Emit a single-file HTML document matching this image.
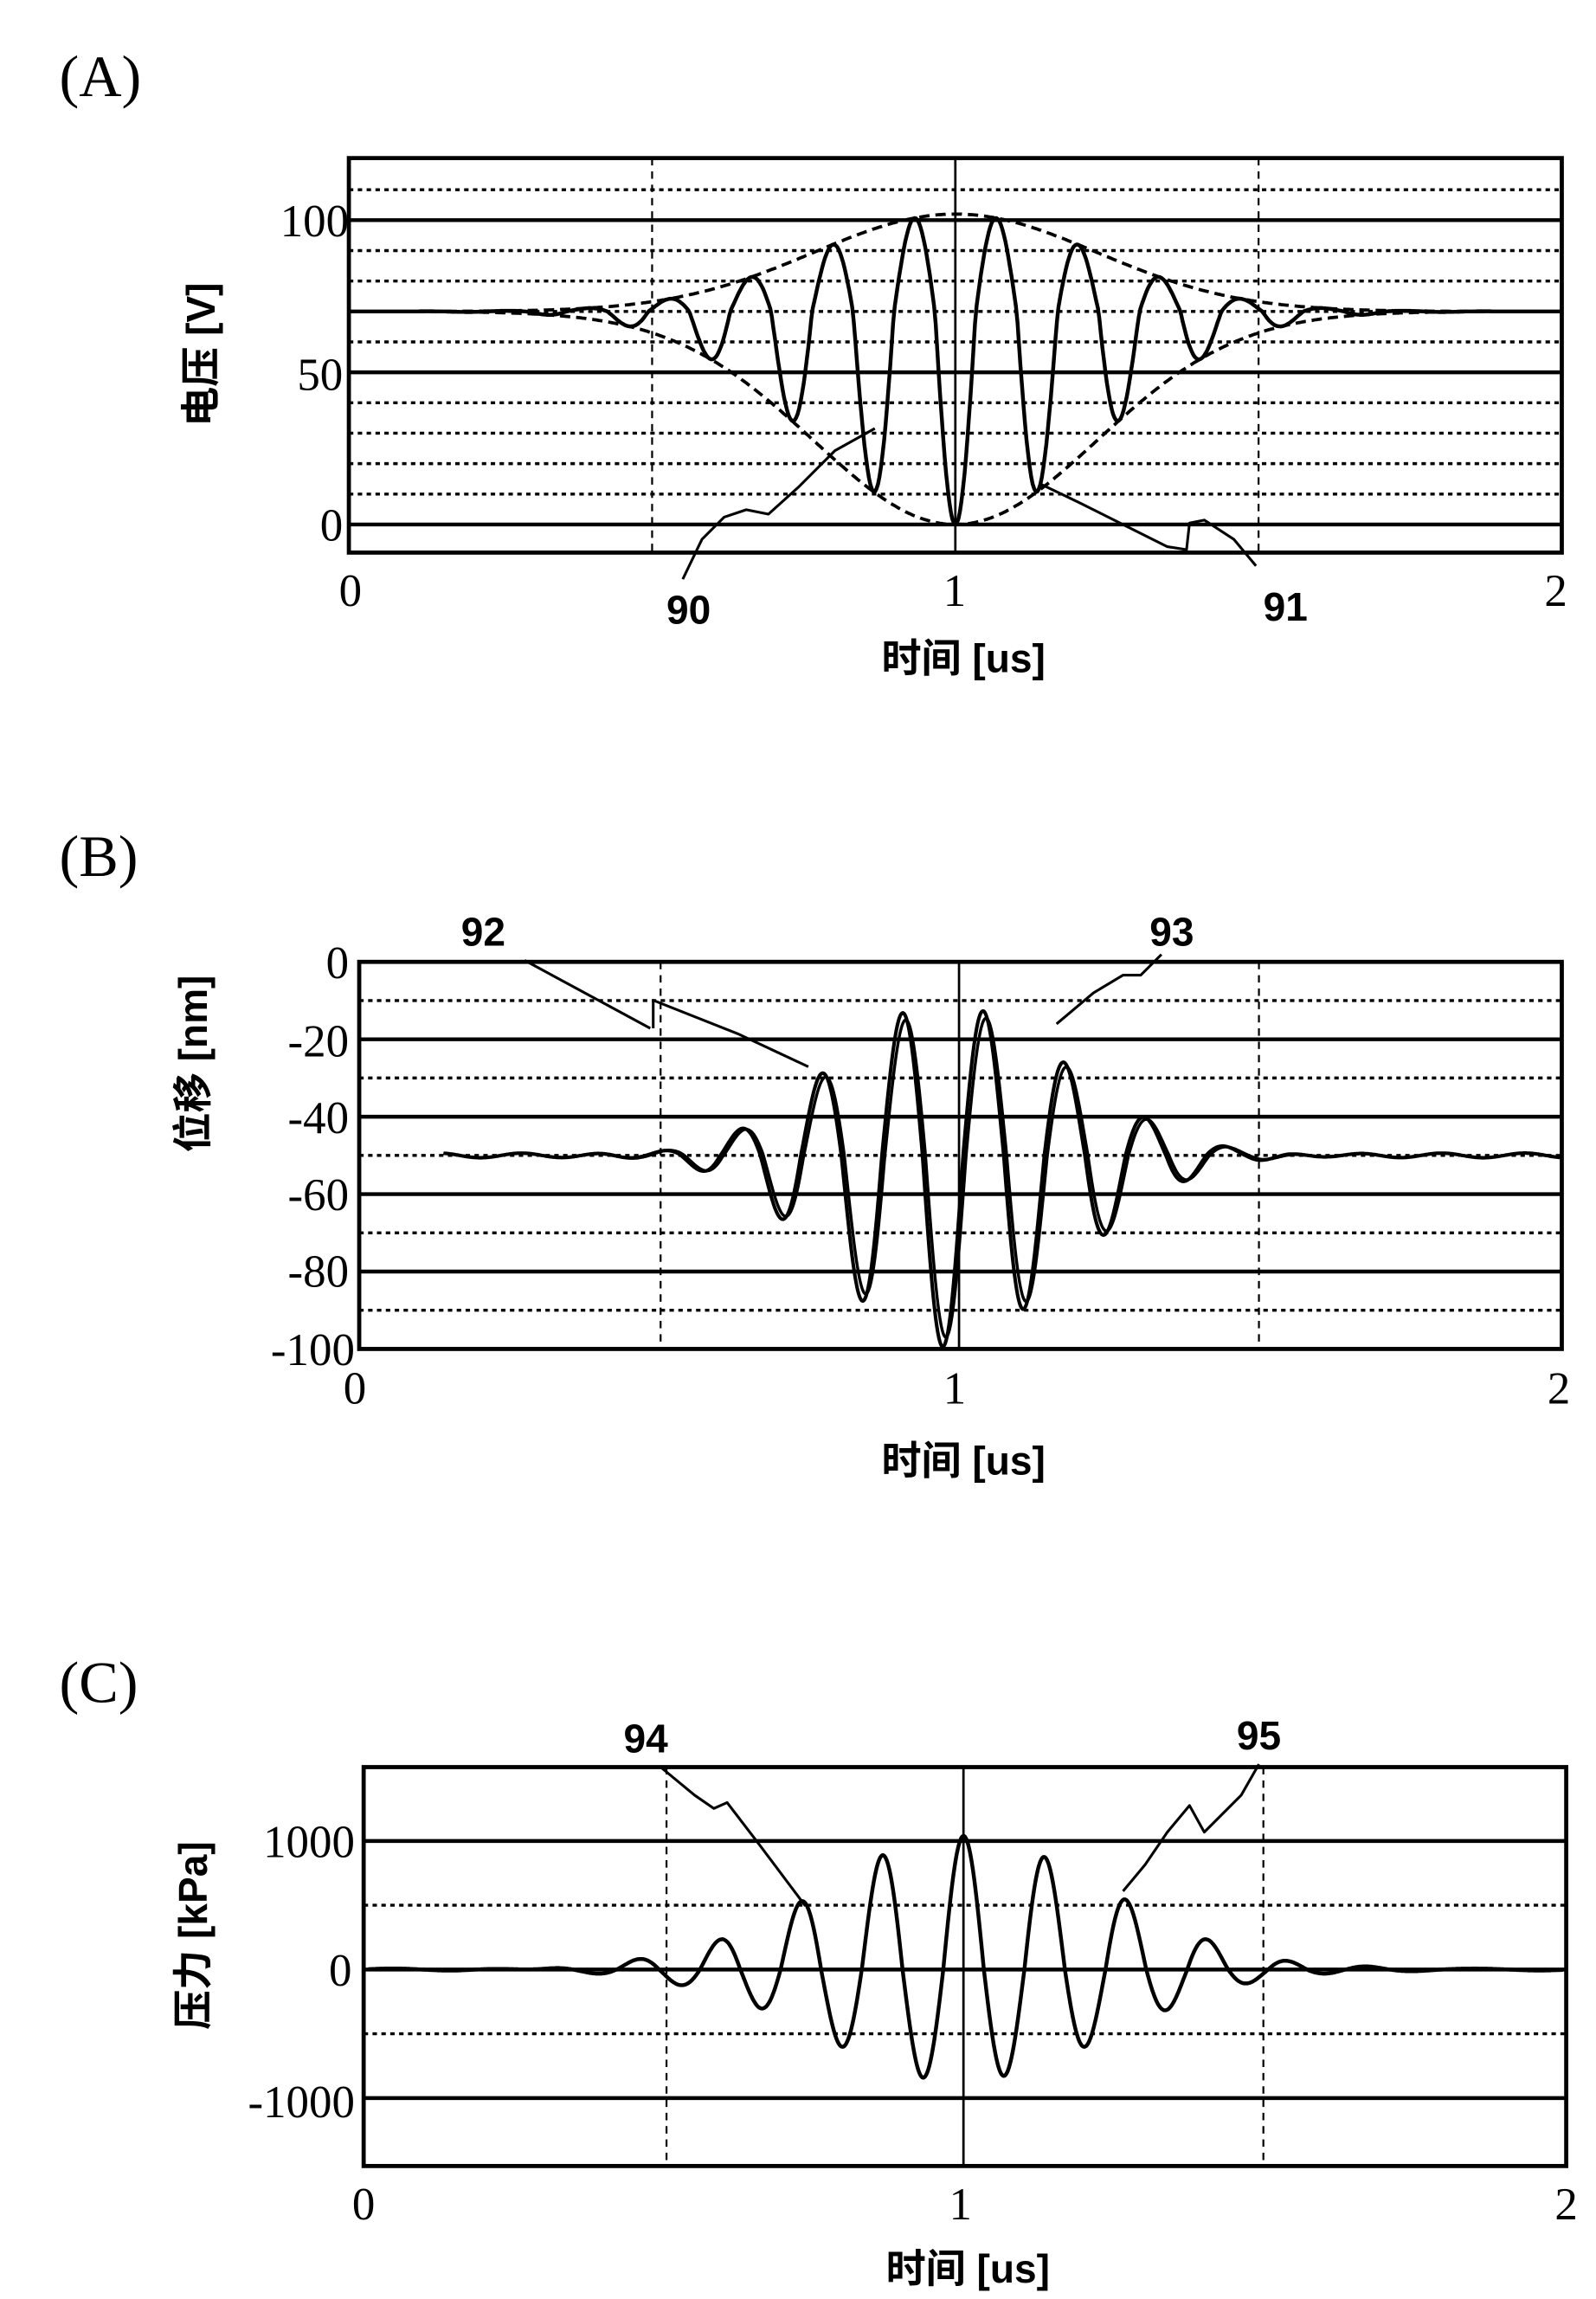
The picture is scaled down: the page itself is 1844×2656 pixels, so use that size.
<!DOCTYPE html>
<html><head><meta charset="utf-8">
<style>
html,body{margin:0;padding:0;background:#fff;}
svg{display:block;}
text{fill:#000;}
.t{font-family:"Liberation Serif","Noto Serif CJK SC",serif;font-size:31px;}
.s{font-family:"Liberation Sans","Noto Sans CJK SC",sans-serif;font-weight:bold;font-size:27px;}
.p{font-family:"Liberation Serif",serif;font-size:40px;}
</style></head>
<body>
<svg id="svg" width="1844" height="2656" viewBox="0 0 1080 1556" xmlns="http://www.w3.org/2000/svg">
<g fill="none" stroke="#000">
<g id="gA"></g>
<g id="gB"></g>
<g id="gC"></g>
</g>
<text class="p" x="40" y="65">(A)</text>
<text class="t" x="236" y="160" text-anchor="end">100</text>
<text class="t" x="232" y="264" text-anchor="end">50</text>
<text class="t" x="232" y="366" text-anchor="end">0</text>
<text class="t" x="237" y="410" text-anchor="middle">0</text>
<text class="t" x="646" y="410" text-anchor="middle">1</text>
<text class="t" x="1053" y="410" text-anchor="middle">2</text>
<text class="s" x="466" y="422" text-anchor="middle">90</text>
<text class="s" x="870" y="420" text-anchor="middle">91</text>
<text class="s" x="652" y="455" text-anchor="middle">时间 [us]</text>
<text class="s" transform="translate(145,240) rotate(-90)" text-anchor="middle">电压 [V]</text>

<text class="p" x="40" y="593">(B)</text>
<text class="t" x="236" y="662" text-anchor="end">0</text>
<text class="t" x="236" y="715" text-anchor="end">-20</text>
<text class="t" x="236" y="767" text-anchor="end">-40</text>
<text class="t" x="236" y="819" text-anchor="end">-60</text>
<text class="t" x="236" y="871" text-anchor="end">-80</text>
<text class="t" x="240" y="924" text-anchor="end">-100</text>
<text class="t" x="240" y="950" text-anchor="middle">0</text>
<text class="t" x="646" y="950" text-anchor="middle">1</text>
<text class="t" x="1055" y="950" text-anchor="middle">2</text>
<text class="s" x="327" y="640" text-anchor="middle">92</text>
<text class="s" x="793" y="640" text-anchor="middle">93</text>
<text class="s" x="652" y="998" text-anchor="middle">时间 [us]</text>
<text class="s" transform="translate(140,720) rotate(-90)" text-anchor="middle">位移 [nm]</text>

<text class="p" x="40" y="1152">(C)</text>
<text class="t" x="240" y="1257" text-anchor="end">1000</text>
<text class="t" x="238" y="1344" text-anchor="end">0</text>
<text class="t" x="240" y="1433" text-anchor="end">-1000</text>
<text class="t" x="246" y="1502" text-anchor="middle">0</text>
<text class="t" x="650" y="1502" text-anchor="middle">1</text>
<text class="t" x="1060" y="1502" text-anchor="middle">2</text>
<text class="s" x="437" y="1186" text-anchor="middle">94</text>
<text class="s" x="852" y="1184" text-anchor="middle">95</text>
<text class="s" x="655" y="1545" text-anchor="middle">时间 [us]</text>
<text class="s" transform="translate(140,1310) rotate(-90)" text-anchor="middle">压力 [kPa]</text>
</svg>
<script>
var NS="http://www.w3.org/2000/svg";
function el(g,tag,attrs){var e=document.createElementNS(NS,tag);for(var k in attrs)e.setAttribute(k,attrs[k]);g.appendChild(e);return e;}
function line(g,x1,y1,x2,y2,w,da){var a={x1:x1,y1:y1,x2:x2,y2:y2,"stroke-width":w};if(da)a["stroke-dasharray"]=da;el(g,"line",a);}
function poly(g,pts,w,da){var a={points:pts.map(function(p){return p[0].toFixed(1)+","+p[1].toFixed(1)}).join(" "),"stroke-width":w,"stroke-linejoin":"round"};if(da)a["stroke-dasharray"]=da;el(g,"polyline",a);}
function frame(g,x0,y0,x1,y1,solidY,dotY,vx){
  dotY.forEach(function(y){line(g,x0,y,x1,y,2,"3,3");});
  solidY.forEach(function(y){line(g,x0,y,x1,y,2.6);});
  line(g,vx[0],y0,vx[0],y1,1.3,"5,4");line(g,vx[2],y0,vx[2],y1,1.3,"5,4");line(g,vx[1],y0,vx[1],y1,1.6);
  el(g,"rect",{x:x0,y:y0,width:x1-x0,height:y1-y0,"stroke-width":2.8});
}
// Panel A
var gA=document.getElementById("gA");
var ax0=236,ax1=1057,ay0=107,ay1=374;
function AY(v){return 355-v*2.06;}
function AX(t){return ax0+t*410.5;}
frame(gA,ax0,ay0,ax1,ay1,[AY(100),AY(50),AY(0)],[AY(110),AY(90),AY(80),AY(70),AY(60),AY(40),AY(30),AY(20),AY(10)],[AX(.5),AX(1),AX(1.5)]);
function envA(t){return Math.exp(-Math.pow((t-1)/0.33,2));}
var up=[],lo=[],sig=[];
for(var i=0;i<=800;i++){var t=i/400;var e=envA(t);
 up.push([AX(t),AY(70+32*e)]);lo.push([AX(t),AY(70-70*e)]);
 var s=-Math.cos(2*Math.PI*(t-1)/0.135);var v=70+e*(s>0?32*s:70*s);sig.push([AX(t),AY(v)]);}
poly(gA,up,2.2,"7,4");poly(gA,lo,2.2,"7,4");poly(gA,sig,2.6);
poly(gA,[[462,392],[475,365],[490,350],[505,345],[520,348],[540,330],[565,305],[592,290]],1.8);
poly(gA,[[850,383],[835,365],[815,352],[805,354],[803,372],[790,370],[760,355],[730,340],[705,328]],1.8);
// Panel B
var gB=document.getElementById("gB");
var bx0=243,bx1=1057,by0=651,by1=913;
function BY(v){return 651+(-v)*2.62;}
frame(gB,bx0,by0,bx1,by1,[BY(-20),BY(-40),BY(-60),BY(-80)],[BY(-10),BY(-30),BY(-50),BY(-70),BY(-90)],[447,649,852]);
function sigB(dx,da){var p=[];for(var x=300;x<=1057;x+=0.5){var d=x-638-dx;var sg=d<0?105:118;var e=Math.exp(-Math.pow(d/sg,2));
 var c=Math.cos(2*Math.PI*d/55);var a=(c>0?50:40)*da;var v=-50-a*e*c+0.6*Math.sin(x/9);p.push([x,BY(v)]);}return p;}
poly(gB,sigB(0,1),2.4);poly(gB,sigB(2,0.95),2);
poly(gB,[[355,650],[440,696]],1.8);poly(gB,[[442,696],[442,677],[500,700],[547,722]],1.8);
poly(gB,[[786,646],[772,660],[760,660],[740,672],[715,693]],1.8);
// Panel C
var gC=document.getElementById("gC");
var cx0=246,cx1=1060,cy0=1196,cy1=1466;
function CY(v){return 1333-v*0.087;}
frame(gC,cx0,cy0,cx1,cy1,[CY(1000),CY(0),CY(-1000)],[CY(500),CY(-500)],[451,652,855]);
var pc=[];for(var x=cx0+3;x<=cx1-2;x+=0.5){var d=x-652;var e=Math.exp(-Math.pow(d/135,2));var c=Math.cos(2*Math.PI*d/55);var a=c>0?1040:870;pc.push([x,CY(a*e*c+8*Math.sin(x/13))]);}
poly(gC,pc,2.6);
poly(gC,[[447,1196],[470,1215],[483,1224],[492,1220],[515,1250],[545,1290]],1.8);
poly(gC,[[852,1194],[840,1215],[815,1240],[805,1222],[790,1240],[775,1262],[760,1280]],1.8);
</script>
</body></html>
